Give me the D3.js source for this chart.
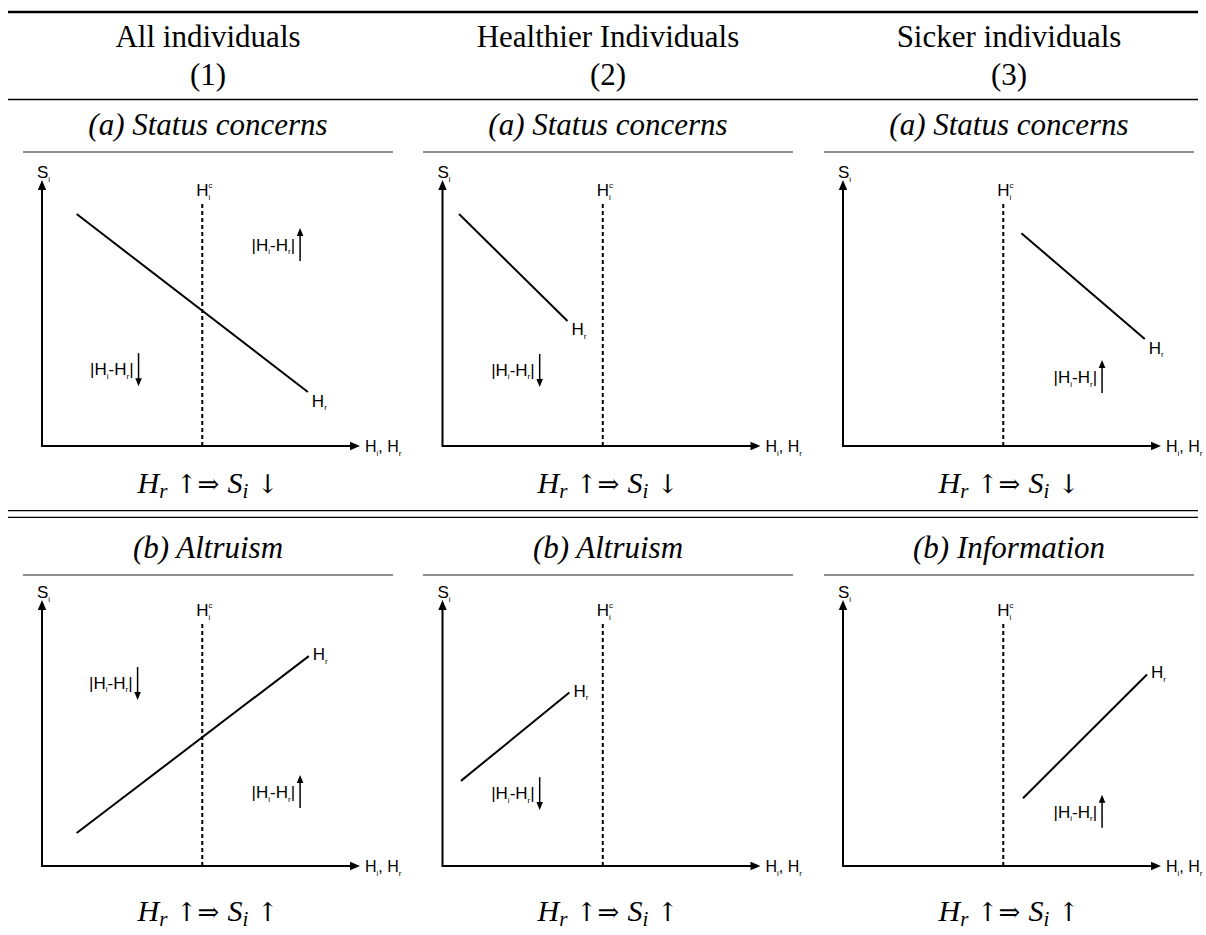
<!DOCTYPE html>
<html>
<head>
<meta charset="utf-8">
<script src="https://cdn.jsdelivr.net/npm/d3@7/dist/d3.min.js"></script>
<style>
  html, body { margin: 0; padding: 0; background: #fff; }
  svg { display: block; }
</style>
</head>
<body>
<svg id="chart" width="1206" height="935"></svg>
<script>
// ---- content -------------------------------------------------------------
const columnTitles = ["All individuals", "Healthier Individuals", "Sicker individuals"];
const columnNumbers = ["(1)", "(2)", "(3)"];
const rowSubtitles = [
  ["(a) Status concerns", "(a) Status concerns", "(a) Status concerns"],
  ["(b) Altruism", "(b) Altruism", "(b) Information"]
];
const rowEffect = ["\u2193", "\u2191"];   // S_i falls / rises when H_r rises

// response line H_r in each panel: [x1, y1, x2, y2] on a 0–100 schematic scale
const responseLines = [
  [[10.9, 87.2, 83.6, 20.3], [5.2, 87.2, 39.3, 47.0], [56.1, 80.0, 94.9, 40.2]],
  [[10.9, 12.4, 83.9, 78.9], [5.8, 32.0, 39.9, 65.2], [56.6, 25.5, 95.6, 72.0]]
];
// critical health level H_i^c
const thresholdX = 50.4;
const thresholdTop = 92;

// |H_i - H_r| annotations: where the label starts and which way the gap moves
const gapNotes = [
  [[{x: 65.9, y: 75.6, dir: "up"}, {x: 15.1, y: 28.9, dir: "down"}],
   [{x: 15.3, y: 28.6, dir: "down"}],
   [{x: 66.2, y: 25.9, dir: "up"}]],
  [[{x: 14.8, y: 68.8, dir: "down"}, {x: 65.9, y: 27.8, dir: "up"}],
   [{x: 15.3, y: 27.4, dir: "down"}],
   [{x: 66.2, y: 20.4, dir: "up"}]]
];

// ---- layout --------------------------------------------------------------
const svg = d3.select("#chart");
const colCenters = [208, 608, 1009];
const colAxisX = [42, 442.5, 843];
const rowAxisY = [446, 866];
const rowSubtitleY = [135, 558];
const rowSubRuleY = [152, 575];
const rowFormulaY = [493, 921];
const plotW = 318, plotH = 266;

const serif = "'Liberation Serif', 'Times New Roman', serif";
const sans = "'Liberation Sans', Arial, sans-serif";

// table rules
function hrule(y, w, x1 = 8, x2 = 1198, color = "#000") {
  svg.append("line").attr("x1", x1).attr("x2", x2).attr("y1", y).attr("y2", y)
    .attr("stroke", color).attr("stroke-width", w);
}
hrule(12, 2.4);
hrule(99.5, 1.4);
hrule(510.7, 1.3);
hrule(517.3, 1.3);

// column headings
columnTitles.forEach((t, i) => {
  svg.append("text").attr("x", colCenters[i]).attr("y", 46.5)
    .attr("text-anchor", "middle").attr("font-family", serif).attr("font-size", 31)
    .text(t);
  svg.append("text").attr("x", colCenters[i]).attr("y", 85)
    .attr("text-anchor", "middle").attr("font-family", serif).attr("font-size", 31)
    .text(columnNumbers[i]);
});

// lays out a sequence of pieces (normal / sub / sup) in the sans label font
function richLabel(g, x, y, parts, size = 17, anchor = "start") {
  const grp = g.append("g");
  let cx = 0, lastX = 0;
  parts.forEach(p => {
    const fs = p.sub || p.sup ? 8 : size;
    const dy = p.sub ? 3.5 : (p.sup ? -8.5 : 0);
    const px = p.stack ? lastX : cx;
    const el = grp.append("text").attr("x", px).attr("y", dy)
      .attr("font-family", sans).attr("font-size", fs).text(p.t);
    const w = el.node().getComputedTextLength();
    if (!p.stack) { lastX = cx; cx += w; }
    else { cx = Math.max(cx, px + w); lastX = px; }
  });
  let shift = 0;
  if (anchor === "middle-first") {
    const first = grp.select("text").node().getComputedTextLength();
    shift = -first / 2;
  }
  grp.attr("transform", `translate(${x + shift},${y})`);
  return {g: grp, width: cx};
}

function arrowHead(g, x, y, dir, len, half) {
  // filled triangle with its tip at (x, y)
  let pts;
  if (dir === "right") pts = [[x, y], [x - len, y - half], [x - len, y + half]];
  else if (dir === "up") pts = [[x, y], [x - half, y + len], [x + half, y + len]];
  else pts = [[x, y], [x - half, y - len], [x + half, y - len]];
  g.append("path").attr("d", d3.line()(pts) + "Z").attr("fill", "#000");
}

// math line "H_r ↑⇒ S_i ↓/↑"
function formula(x, y, effect) {
  const t = svg.append("text").attr("x", x).attr("y", y)
    .attr("text-anchor", "middle").attr("font-family", serif).attr("font-size", 30);
  t.append("tspan").attr("font-style", "italic").text("H");
  t.append("tspan").attr("font-style", "italic").attr("font-size", 21).attr("dy", 5).text("r");
  t.append("tspan").attr("dy", -5).attr("font-family", "'DejaVu Serif', serif").attr("font-size", 26).text(" \u2191\u21D2 ");
  t.append("tspan").attr("font-style", "italic").text("S");
  t.append("tspan").attr("font-style", "italic").attr("font-size", 21).attr("dy", 5).text("i");
  t.append("tspan").attr("dy", -5).attr("font-family", "'DejaVu Serif', serif").attr("font-size", 26).text(" " + effect);
}

// ---- panels --------------------------------------------------------------
for (let r = 0; r < 2; r++) {
  for (let c = 0; c < 3; c++) {
    const cx = colCenters[c];
    // subtitle and its rule
    svg.append("text").attr("x", cx).attr("y", rowSubtitleY[r])
      .attr("text-anchor", "middle").attr("font-family", serif).attr("font-style", "italic")
      .attr("font-size", 31).text(rowSubtitles[r][c]);
    hrule(rowSubRuleY[r], 1.3, cx - 185, cx + 185, "#6b6b6b");

    const x = d3.scaleLinear().domain([0, 100]).range([colAxisX[c], colAxisX[c] + plotW]);
    const y = d3.scaleLinear().domain([0, 100]).range([rowAxisY[r], rowAxisY[r] - plotH]);
    const g = svg.append("g");

    // axes with arrow tips
    g.append("line").attr("x1", x(0)).attr("y1", y(0)).attr("x2", x(100) - 6).attr("y2", y(0))
      .attr("stroke", "#000").attr("stroke-width", 2);
    arrowHead(g, x(100), y(0), "right", 10, 4.2);
    g.append("line").attr("x1", x(0)).attr("y1", y(0) + 1).attr("x2", x(0)).attr("y2", y(100) + 6)
      .attr("stroke", "#000").attr("stroke-width", 2);
    arrowHead(g, x(0), y(100), "up", 10, 4.2);

    richLabel(g, x(0) - 5, y(100) - 2, [{t: "S"}, {t: "i", sub: true}]);
    richLabel(g, x(100) + 5, y(0) + 6, [{t: "H"}, {t: "i", sub: true}, {t: ", H"}, {t: "r", sub: true}], 16);

    // critical health threshold
    g.append("line").attr("x1", x(thresholdX)).attr("x2", x(thresholdX))
      .attr("y1", y(0)).attr("y2", y(thresholdTop))
      .attr("stroke", "#000").attr("stroke-width", 2).attr("stroke-dasharray", "4,3");
    richLabel(g, x(thresholdX), y(thresholdTop) - 5,
      [{t: "H"}, {t: "i", sub: true}, {t: "c", sup: true, stack: true}], 17, "middle-first");

    // response of S_i to H_r
    const [x1, y1, x2, y2] = responseLines[r][c];
    g.append("line").attr("x1", x(x1)).attr("y1", y(y1)).attr("x2", x(x2)).attr("y2", y(y2))
      .attr("stroke", "#000").attr("stroke-width", 2);
    const falling = y2 < y1;
    richLabel(g, x(x2) + 4, y(y2) + (falling ? 14.5 : 4), [{t: "H"}, {t: "r", sub: true}]);

    // gap annotations
    gapNotes[r][c].forEach(n => {
      const midY = y(n.y);
      const lab = richLabel(g, x(n.x), midY + 6,
        [{t: "|H"}, {t: "i", sub: true}, {t: "-H"}, {t: "r", sub: true}, {t: "|"}]);
      const ax = x(n.x) + lab.width + 5;
      if (n.dir === "up") {
        g.append("line").attr("x1", ax).attr("x2", ax).attr("y1", midY + 16).attr("y2", midY - 10)
          .attr("stroke", "#000").attr("stroke-width", 1.5);
        arrowHead(g, ax, midY - 17, "up", 8, 3.3);
      } else {
        g.append("line").attr("x1", ax).attr("x2", ax).attr("y1", midY - 16).attr("y2", midY + 10)
          .attr("stroke", "#000").attr("stroke-width", 1.5);
        arrowHead(g, ax, midY + 17, "down", 8, 3.3);
      }
    });

    formula(cx, rowFormulaY[r], rowEffect[r]);
  }
}
</script>
</body>
</html>
